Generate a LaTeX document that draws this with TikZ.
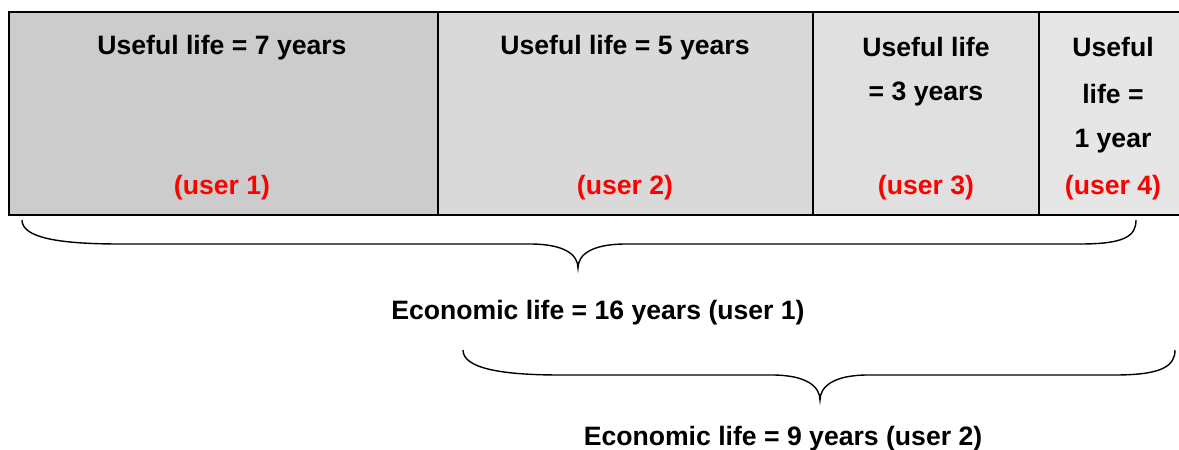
\documentclass[tikz,border=0pt]{standalone}
\usepackage{fontspec}
\setmainfont{Liberation Sans}
\begin{document}
\begin{tikzpicture}[x=1pt,y=-1pt,
  lbl/.style={font=\fontsize{26.6}{30}\selectfont\bfseries, inner sep=0pt, anchor=center},
  usr/.style={lbl, text={rgb,255:red,255;green,0;blue,0}},
  cell/.style={draw=black, line width=2.2pt},
  brc/.style={draw=black, line width=1.4pt}]
\useasboundingbox (0,0) rectangle (1179,450);
\definecolor{g1}{RGB}{204,204,204}
\definecolor{g2}{RGB}{217,217,217}
\definecolor{g3}{RGB}{224,224,224}
\definecolor{g4}{RGB}{230,230,230}
% cells
\path[fill=g1] (9,12) rectangle (438,215);
\path[fill=g2] (438,12) rectangle (813,215);
\path[fill=g3] (813,12) rectangle (1039,215);
\path[fill=g4] (1039,12) rectangle (1179,215);
\draw[cell] (1181,12) -- (9,12) -- (9,215) -- (1181,215);
\draw[cell] (438,12) -- (438,215);
\draw[cell] (813,12) -- (813,215);
\draw[cell] (1039,12) -- (1039,215);
% texts
\node[lbl] (u1) at (222,48) {Useful life = 7 years};
\node[usr] (r1) at (222,188) {(user 1)};
\node[lbl] (u2) at (625,48) {Useful life = 5 years};
\node[usr] (r2) at (625,188) {(user 2)};
\node[lbl] (u3a) at (926,47) {Useful life};
\node[lbl] (u3b) at (926,94) {= 3 years};
\node[usr] (r3) at (926,188) {(user 3)};
\node[lbl] (u4a) at (1113,47) {Useful};
\node[lbl] (u4b) at (1113,94) {life =};
\node[lbl] (u4c) at (1113,141) {1 year};
\node[usr] (r4) at (1113,188) {(user 4)};
% braces
\coordinate (b1l) at (22,220);
\coordinate (b1t) at (578,268);
\coordinate (b1r) at (1136,220);
\draw[brc] (b1l) .. controls (22,238) and (60,244) .. (120,244) -- (530,244)
  .. controls (565,244) and (578,255) .. (b1t)
  .. controls (578,255) and (591,244) .. (626,244) -- (1080,244)
  .. controls (1125,244) and (1136,236) .. (b1r);
\node[lbl] (e1) at (598,313) {Economic life = 16 years (user 1)};
\coordinate (b2l) at (463,350);
\coordinate (b2t) at (820,400);
\coordinate (b2r) at (1175,350);
\draw[brc] (b2l) .. controls (463,368) and (500,375) .. (560,375) -- (772,375)
  .. controls (807,375) and (820,387) .. (b2t)
  .. controls (820,387) and (833,375) .. (868,375) -- (1115,375)
  .. controls (1162,375) and (1175,366) .. (b2r);
\node[lbl] (e2) at (783,439) {Economic life = 9 years (user 2)};
\end{tikzpicture}
\end{document}
